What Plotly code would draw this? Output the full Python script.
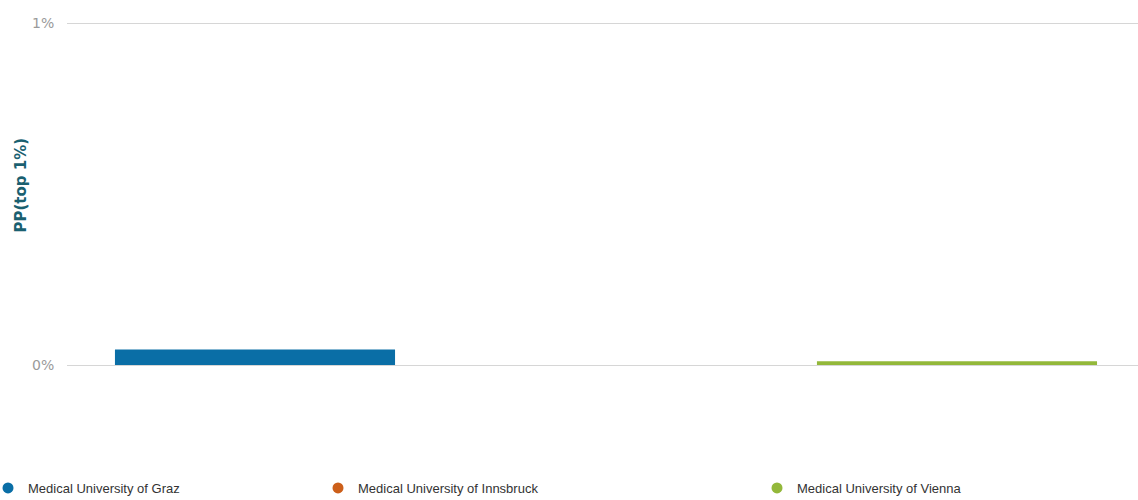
import plotly.graph_objects as go

universities = ["Medical University of Graz", "Medical University of Innsbruck", "Medical University of Vienna"]
pp_top1 = [0.045, 0.0, 0.011]  # percent
colors = ["#0a6ea6", "#cc5f1a", "#93b83a"]
ytick_vals = [0, 1]
ytick_text = ["0%", "1%"]
y_title = "PP(top 1%)"

W, H = 1138, 500
L = 67
Y1_PX, Y0_PX = 23, 365          # pixel rows of the 1% and 0% gridlines
UNIT = Y0_PX - Y1_PX            # px per 1%
PAD = 4                         # px of breathing room around the range
T = Y1_PX - PAD
B = H - (Y0_PX + PAD)
PW = W - L
PH = H - T - B

fig = go.Figure()
fig.add_trace(go.Bar(
    x=universities, y=pp_top1, marker=dict(color=colors, line=dict(width=0)),
    width=0.798, showlegend=False, hoverinfo="x+y"))

legend_names = ["legend", "legend2", "legend3"]
text_px = [28, 358, 797]
for name, col, lg in zip(universities, colors, legend_names):
    fig.add_trace(go.Scatter(
        x=[None], y=[None], mode="markers", name=name,
        marker=dict(symbol="circle", size=11, color=col),
        legend=lg, showlegend=True))

legend_common = dict(orientation="h", yanchor="middle", y=1 - 488 / H, yref="container",
                     xref="paper", xanchor="left",
                     font=dict(family="Liberation Sans, Arial", size=13, color="#333333"),
                     bgcolor="rgba(0,0,0,0)", itemclick=False)
layout_legends = {}
for lg, tp in zip(legend_names, text_px):
    layout_legends[lg] = dict(legend_common, x=(tp - 40 - L) / PW)

fig.update_layout(
    template="none",
    width=W, height=H,
    margin=dict(l=L, r=0, t=T, b=B, pad=0, autoexpand=False),
    plot_bgcolor="white", paper_bgcolor="white",
    xaxis=dict(range=[-0.5356, 2.5157], showticklabels=False, showgrid=False,
               zeroline=False, showline=False, ticks=""),
    yaxis=dict(range=[-PAD / UNIT, 1 + PAD / UNIT], tickvals=ytick_vals, ticktext=ytick_text,
               showgrid=True, gridcolor="#d6d6d6", gridwidth=1, zeroline=False,
               showline=False, ticks="outside", ticklen=9, tickcolor="rgba(0,0,0,0)",
               tickfont=dict(family="DejaVu Sans, Verdana", size=14, color="#9a9a9a")),
    annotations=[dict(
        text=f"<b>{y_title}</b>", textangle=-90, showarrow=False,
        xref="paper", yref="paper",
        x=(20 - L) / PW, y=1 - (185.5 - T) / PH, xanchor="center", yanchor="middle",
        font=dict(family="DejaVu Sans, Verdana", size=15, color="#1a6070"))],
    **layout_legends,
)

fig.write_html("out.html", config={"displayModeBar": False},
               post_script="document.body.style.margin='0px';")
